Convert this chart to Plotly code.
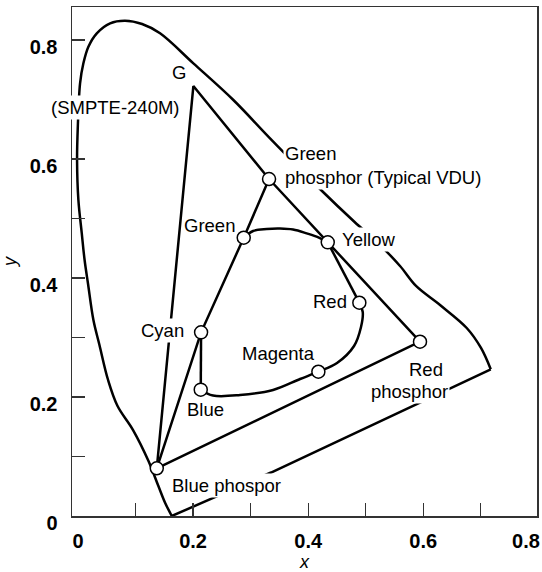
import plotly.graph_objects as go

# ---- data (CIE x, y) ----
locus_x = [0.1630, 0.1513, 0.1397, 0.1223, 0.0957, 0.0685, 0.0523, 0.0372, 0.0268, 0.0175,
           0.0115, 0.0066, 0.0007, -0.0016, -0.0003, 0.0036, 0.0094, 0.0181, 0.0327, 0.0558,
           0.0818, 0.1114, 0.1426, 0.2005, 0.2700, 0.3337, 0.4223, 0.4802, 0.5214, 0.5596,
           0.5874, 0.6291, 0.6755, 0.7003, 0.7172]
locus_y = [0.0000, 0.0224, 0.0504, 0.0929, 0.1445, 0.1854, 0.2286, 0.2879, 0.3294, 0.3899,
           0.4303, 0.4751, 0.5311, 0.5983, 0.6543, 0.7272, 0.7608, 0.7887, 0.8113, 0.8281,
           0.8324, 0.8269, 0.8113, 0.7608, 0.6992, 0.6348, 0.5479, 0.4946, 0.4588, 0.4202,
           0.3866, 0.3546, 0.3160, 0.2824, 0.2466]
purple_x = [0.7172, 0.3355, 0.1630]
purple_y = [0.2466, 0.0731, 0.0000]

phosphor_names = ["Red phosphor", "Green phosphor", "Blue phosphor"]
phosphor_x = [0.5943, 0.3320, 0.1369]
phosphor_y = [0.2929, 0.5664, 0.0802]

smpte_g_x = 0.2005
smpte_g_y = 0.7227

gamut_names = ["Green", "Yellow", "Red", "Magenta", "Blue", "Cyan"]
gamut_x = [0.2880, 0.4340, 0.4889, 0.4177, 0.2133, 0.2139]
gamut_y = [0.4677, 0.4600, 0.3585, 0.2425, 0.2123, 0.3087]

green_yellow_x = [0.3042, 0.3280, 0.3511, 0.3737, 0.3975, 0.4177]
green_yellow_y = [0.4790, 0.4824, 0.4832, 0.4815, 0.4751, 0.4684]
red_magenta_x = [0.4948, 0.4918, 0.4797, 0.4501]
red_magenta_y = [0.3429, 0.3176, 0.2857, 0.2571]
magenta_blue_x = [0.3859, 0.3390, 0.2816, 0.2347]
magenta_blue_y = [0.2303, 0.2118, 0.2034, 0.2025]

x_tick_vals = [0.1, 0.2, 0.3, 0.4, 0.5, 0.6, 0.7]
x_label_vals = [0, 0.2, 0.4, 0.6]
x_label_text = ["0", "0.2", "0.4", "0.6"]
x_last_val = [0.8]
x_last_text = ["0.8"]
y_tick_vals = [0, 0.1, 0.2, 0.3, 0.4, 0.5, 0.6, 0.7, 0.8]
y_tick_text = ["0", "", "0.2", "", "0.4", "", "0.6", "", "0.8"]

FONT = "Liberation Sans, Arial, Helvetica, sans-serif"
LW = 2.5
BLACK = "black"

gi = {n: i for i, n in enumerate(gamut_names)}
pi = {n: i for i, n in enumerate(phosphor_names)}

def line(x, y, shape="linear", xaxis="x"):
    return go.Scatter(x=x, y=y, mode="lines", line=dict(color=BLACK, width=LW, shape=shape,
                      smoothing=1.0), showlegend=False, hoverinfo="skip", xaxis=xaxis)

fig = go.Figure()
# spectral locus and purple line
fig.add_trace(line(locus_x, locus_y, "spline"))
fig.add_trace(line(purple_x, purple_y))

R, G, B = pi["Red phosphor"], pi["Green phosphor"], pi["Blue phosphor"]
# SMPTE G lines
fig.add_trace(line([phosphor_x[G], smpte_g_x, phosphor_x[B]],
                   [phosphor_y[G], smpte_g_y, phosphor_y[B]]))
# VDU triangle (blue-green side passes through Cyan and Green)
c, g = gi["Cyan"], gi["Green"]
fig.add_trace(line([phosphor_x[G], phosphor_x[R], phosphor_x[B], gamut_x[c], gamut_x[g], phosphor_x[G]],
                   [phosphor_y[G], phosphor_y[R], phosphor_y[B], gamut_y[c], gamut_y[g], phosphor_y[G]]))
# inner gamut
yl, rd, mg, bl = gi["Yellow"], gi["Red"], gi["Magenta"], gi["Blue"]
fig.add_trace(line([gamut_x[g]] + green_yellow_x + [gamut_x[yl]],
                   [gamut_y[g]] + green_yellow_y + [gamut_y[yl]], "spline"))
fig.add_trace(line([gamut_x[yl], gamut_x[rd]], [gamut_y[yl], gamut_y[rd]]))
fig.add_trace(line([gamut_x[rd]] + red_magenta_x + [gamut_x[mg]] + magenta_blue_x + [gamut_x[bl]],
                   [gamut_y[rd]] + red_magenta_y + [gamut_y[mg]] + magenta_blue_y + [gamut_y[bl]], "spline"))
fig.add_trace(line([gamut_x[bl], gamut_x[c]], [gamut_y[bl], gamut_y[c]]))

# markers
fig.add_trace(go.Scatter(x=phosphor_x + gamut_x, y=phosphor_y + gamut_y, mode="markers",
                         marker=dict(symbol="circle", size=13, color="white",
                                     line=dict(color=BLACK, width=1.5)),
                         showlegend=False, hoverinfo="skip"))
# dummy traces for the label axes
fig.add_trace(go.Scatter(x=[], y=[], xaxis="x2", showlegend=False, hoverinfo="skip"))
fig.add_trace(go.Scatter(x=[], y=[], xaxis="x3", showlegend=False, hoverinfo="skip"))

def ann(text, x, y, xanchor="center", align="center", bg=None):
    d = dict(text=text, x=x, y=y, xref="x", yref="y", showarrow=False, xanchor=xanchor,
             yanchor="middle", align=align, font=dict(family=FONT, size=18.5, color=BLACK))
    if bg:
        d.update(bgcolor=bg)
    fig.add_annotation(**d)

ann("G", 0.1756, 0.7450)
ann("(SMPTE-240M)", 0.0645, 0.6869, bg="white")
ann("Green<br>phosphor (Typical VDU)", 0.3563, 0.5899, xanchor="left", align="left", bg="white")
ann("Green", 0.2283, 0.4891)
ann("Yellow", 0.5045, 0.4655, bg="white")
ann("Red", 0.4380, 0.3602)
ann("Cyan", 0.1470, 0.3126, bg="white")
ann("Magenta", 0.3476, 0.2723)
ann("Blue", 0.2217, 0.1782)
ann("Red", 0.6378, 0.2466, xanchor="right")
ann("phosphor", 0.6464, 0.2101, xanchor="right", bg="white")
ann("Blue phospor", 0.1600, 0.0521, xanchor="left", bg="white")

xr = [-0.0104, 0.7976]
tickfont = dict(family=FONT, size=20, color=BLACK, weight="bold")
label_axis = dict(overlaying="x", anchor="y", side="bottom", showline=False, ticks="",
                  tickmode="array", tickfont=tickfont, ticklabelstandoff=11,
                  showgrid=False, zeroline=False, automargin=False)
fig.update_layout(
    width=542, height=572,
    margin=dict(l=72, r=5, t=7, b=56, autoexpand=False),
    paper_bgcolor="white", plot_bgcolor="white",
    hovermode=False,
    xaxis=dict(range=xr, showline=True, mirror=True, linecolor="#333", linewidth=1.5,
               tickmode="array", tickvals=x_tick_vals, ticks="inside", ticklen=13,
               tickwidth=1.3, tickcolor="#333", showticklabels=False,
               showgrid=False, zeroline=False, fixedrange=True, automargin=False),
    xaxis2=dict(range=xr, tickvals=x_label_vals, ticktext=x_label_text,
                title=dict(text="<i>x</i>", font=dict(family=FONT, size=18, color=BLACK),
                           standoff=6), **label_axis),
    xaxis3=dict(range=[-0.0104, 0.8196], tickvals=x_last_val, ticktext=x_last_text,
                **label_axis),
    yaxis=dict(range=[0, 0.8555], showline=True, mirror=True, linecolor="#333", linewidth=1.5,
               tickmode="array", tickvals=y_tick_vals, ticktext=y_tick_text, ticks="inside",
               ticklen=13, tickwidth=1.3, tickcolor="#333", tickfont=tickfont,
               ticklabelstandoff=9, ticklabelshift=7, automargin=False,
               showgrid=False, zeroline=False,
               title=dict(text="<i>y</i>", font=dict(family=FONT, size=18, color=BLACK),
                          standoff=11)),
)

fig.write_html(
    "out.html",
    config={"displayModeBar": False, "staticPlot": True},
    post_script=("document.body.style.margin='0px';"
                 "document.body.style.overflow='hidden';"
                 "document.documentElement.style.overflow='hidden';"),
)
